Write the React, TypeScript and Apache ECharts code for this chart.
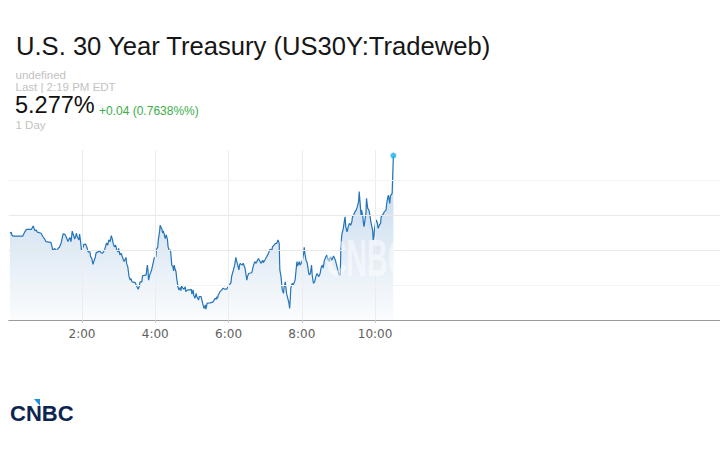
import React, { useEffect, useRef } from "react";
import * as echarts from "echarts";

// minutes after midnight
const TIMES: number[] = [
  2, 4, 5, 7, 23, 26, 29, 37, 40, 43, 45, 47, 53, 56, 59, 61, 69, 71, 72, 75,
  78, 81, 83, 86, 89, 92, 94, 97, 99, 100, 102, 104, 106, 108, 111, 112, 115, 116, 118, 119,
  122, 123, 126, 128, 130, 133, 134, 136, 138, 140, 142, 143, 149, 152, 154, 157, 160, 162, 164, 166,
  168, 170, 171, 173, 175, 177, 179, 180, 182, 184, 186, 188, 189, 192, 193, 195, 196, 197, 199, 200,
  202, 207, 210, 212, 214, 215, 218, 219, 225, 227, 228, 229, 231, 234, 237, 238, 241, 242, 244, 245,
  247, 248, 251, 252, 253, 255, 256, 258, 260, 261, 263, 265, 267, 269, 270, 271, 272, 274, 275, 276,
  277, 279, 281, 282, 283, 285, 287, 289, 290, 293, 297, 299, 300, 302, 303, 305, 307, 308, 311, 312,
  315, 317, 319, 320, 322, 323, 325, 330, 335, 338, 340, 341, 342, 343, 346, 349, 351, 354, 357, 360,
  364, 365, 368, 370, 372, 373, 375, 377, 378, 379, 382, 384, 387, 390, 391, 393, 398, 401, 403, 405,
  409, 413, 416, 417, 420, 425, 428, 431, 432, 437, 439, 441, 443, 444, 446, 448, 450, 451, 453, 455,
  457, 459, 460, 461, 462, 464, 466, 469, 472, 473, 476, 477, 479, 481, 483, 484, 485, 487, 489, 491,
  492, 494, 496, 497, 499, 501, 503, 505, 506, 508, 510, 512, 514, 515, 517, 519, 521, 523, 524, 525,
  527, 529, 532, 535, 537, 539, 541, 543, 544, 545, 546, 548, 550, 551, 552, 554, 555, 556, 558, 560,
  562, 563, 565, 567, 569, 571, 573, 574, 576, 577, 578, 580, 581, 582, 585, 586, 587, 588, 590, 592,
  593, 596, 597, 598, 599, 601, 602, 604, 605, 607, 609, 610, 612, 614, 615, 618, 619, 621, 622, 624,
  625, 626, 628, 630,
];

// yield (%)
const YIELDS: number[] = [
  5.2548, 5.2551, 5.2543, 5.254, 5.254, 5.2551, 5.2559, 5.2559, 5.2569, 5.2555,
  5.2557, 5.2551, 5.2548, 5.2538, 5.2531, 5.2524, 5.2522, 5.2509, 5.2498, 5.2505,
  5.2498, 5.2505, 5.2508, 5.2521, 5.2546, 5.2545, 5.2538, 5.2524, 5.2533, 5.2536,
  5.2524, 5.2554, 5.2543, 5.2531, 5.2548, 5.2538, 5.2529, 5.2546, 5.2519, 5.25,
  5.2509, 5.2516, 5.2517, 5.2508, 5.2495, 5.2495, 5.2481, 5.2476, 5.2459, 5.2471,
  5.2481, 5.2492, 5.2497, 5.2491, 5.2492, 5.25, 5.252, 5.2514, 5.2529, 5.2524,
  5.2541, 5.2529, 5.2519, 5.2509, 5.2514, 5.25, 5.2495, 5.2505, 5.2486, 5.2491,
  5.2481, 5.2471, 5.2467, 5.2479, 5.2462, 5.2452, 5.2438, 5.2424, 5.2414, 5.2419,
  5.2409, 5.2407, 5.2395, 5.2388, 5.2397, 5.2409, 5.2409, 5.2426, 5.2429, 5.2457,
  5.2443, 5.2414, 5.2429, 5.2443, 5.2467, 5.2476, 5.2481, 5.2502, 5.2509, 5.2529,
  5.2552, 5.2571, 5.2559, 5.2549, 5.2555, 5.2543, 5.2533, 5.2543, 5.2529, 5.2509,
  5.2498, 5.25, 5.2457, 5.2452, 5.244, 5.2457, 5.2448, 5.2438, 5.2419, 5.2409,
  5.2395, 5.2386, 5.2393, 5.2384, 5.2397, 5.2391, 5.2388, 5.2395, 5.2381, 5.2386,
  5.2386, 5.2388, 5.2374, 5.2386, 5.2371, 5.2362, 5.2376, 5.2367, 5.2357, 5.2367,
  5.2367, 5.2352, 5.2338, 5.2333, 5.2343, 5.2331, 5.2348, 5.2349, 5.2352, 5.2362,
  5.2359, 5.2367, 5.2362, 5.2371, 5.2381, 5.2386, 5.2391, 5.2388, 5.2388, 5.2397,
  5.2407, 5.2424, 5.2443, 5.2457, 5.2479, 5.2471, 5.2457, 5.2443, 5.2457, 5.2462,
  5.2457, 5.2462, 5.2448, 5.2414, 5.2424, 5.2433, 5.2435, 5.2457, 5.2467, 5.2462,
  5.2476, 5.2462, 5.2471, 5.2464, 5.2473, 5.2489, 5.2502, 5.25, 5.2509, 5.2519,
  5.2519, 5.2529, 5.2519, 5.2443, 5.2424, 5.2386, 5.2376, 5.2393, 5.2409, 5.2376,
  5.2362, 5.2348, 5.2333, 5.2357, 5.2391, 5.2405, 5.24, 5.2414, 5.2467, 5.2454,
  5.2467, 5.2457, 5.2462, 5.2471, 5.2491, 5.2508, 5.2491, 5.2471, 5.2462, 5.2438,
  5.2429, 5.2433, 5.2457, 5.2429, 5.2405, 5.2409, 5.2424, 5.2433, 5.2429, 5.2424,
  5.2433, 5.2452, 5.2457, 5.2448, 5.2471, 5.2479, 5.2486, 5.2471, 5.2476, 5.2467,
  5.2481, 5.2471, 5.2483, 5.2471, 5.2457, 5.2443, 5.2429, 5.2429, 5.2509, 5.2533,
  5.2548, 5.2562, 5.2586, 5.2595, 5.2567, 5.2552, 5.2557, 5.2567, 5.2576, 5.2571,
  5.2581, 5.2595, 5.26, 5.2609, 5.2614, 5.2624, 5.2638, 5.2667, 5.2624, 5.26,
  5.2614, 5.2595, 5.2576, 5.2567, 5.2605, 5.2648, 5.2633, 5.2619, 5.2614, 5.2595,
  5.2581, 5.2557, 5.2529, 5.2538, 5.2557, 5.2581, 5.2586, 5.2576, 5.2562, 5.2571,
  5.2576, 5.2595, 5.26, 5.2605, 5.2609, 5.2614, 5.2633, 5.2652, 5.2657, 5.2633,
  5.2652, 5.2657, 5.2662, 5.277,
];

const HOUR_TICKS: number[] = [120, 240, 360, 480, 600];
const GRID_LEVELS: number[] = [5.24, 5.25, 5.26, 5.27];
const GRID_LEVEL_COLORS: string[] = ["#f3f3f3", "#e9e9e9", "#e9e9e9", "#f3f3f3"];
const Y_MIN = 5.23;
const Y_MAX = 5.2786;
const X_MAX = 1165;

const TITLE = "U.S. 30 Year Treasury (US30Y:Tradeweb)";
const SUB1 = "undefined";
const SUB2 = "Last | 2:19 PM EDT";
const LAST_PRICE = "5.277%";
const CHANGE = "+0.04 (0.7638%%)";
const RANGE = "1 Day";

const FONT = "'Liberation Sans', Arial, Helvetica, sans-serif";

export default function App() {
  const ref = useRef<HTMLDivElement>(null);

  useEffect(() => {
    if (!ref.current) return;
    const chart = echarts.init(ref.current, undefined, { renderer: "svg" });
    const n = Math.min(TIMES.length, YIELDS.length);
    const data: number[][] = [];
    for (let i = 0; i < n; i++) data.push([TIMES[i], YIELDS[i]]);
    const last = data[data.length - 1];

    const fmt = (v: number) => {
      if (v < 120 || v > 600) return "";
      return `${Math.floor(v / 60)}:${String(v % 60).padStart(2, "0")}`;
    };

    chart.setOption({
      animation: false,
      backgroundColor: "#ffffff",
      grid: { left: 8.75, right: 0, top: 150, bottom: 130, containLabel: false },
      xAxis: {
        type: "value",
        min: 0,
        max: X_MAX,
        interval: 120,
        axisLine: { show: true, lineStyle: { color: "#9a9a9a", width: 1 } },
        axisTick: {
          show: true,
          length: 3,
          customValues: HOUR_TICKS,
          lineStyle: { color: "#c8c8c8" },
        },
        axisLabel: {
          show: true,
          customValues: HOUR_TICKS,
          formatter: fmt,
          color: "#5e5e5e",
          fontFamily: "'DejaVu Sans', Verdana, sans-serif",
          fontSize: 12,
          margin: 8,
        },
        splitLine: { show: false },
      },
      yAxis: {
        type: "value",
        min: Y_MIN,
        max: Y_MAX,
        scale: true,
        axisLine: { show: false },
        axisTick: { show: false },
        axisLabel: { show: false },
        splitLine: { show: false },
      },
      graphic: [
        {
          type: "text",
          x: 16,
          y: 46,
          style: { text: TITLE, fill: "#161616", font: `25.6px ${FONT}`, verticalAlign: "middle" },
        },
        {
          type: "text",
          x: 15.5,
          y: 75,
          style: { text: SUB1, fill: "#c2c2c2", font: `11.5px ${FONT}`, verticalAlign: "middle" },
        },
        {
          type: "text",
          x: 15.5,
          y: 86.8,
          style: { text: SUB2, fill: "#c2c2c2", font: `11.5px ${FONT}`, verticalAlign: "middle" },
        },
        {
          type: "text",
          x: 15,
          y: 105.2,
          style: { text: LAST_PRICE, fill: "#111111", font: `23.5px ${FONT}`, verticalAlign: "middle" },
        },
        {
          type: "text",
          x: 99,
          y: 110.8,
          style: { text: CHANGE, fill: "#3aae4a", font: `12px ${FONT}`, verticalAlign: "middle" },
        },
        {
          type: "text",
          x: 15.5,
          y: 124.8,
          style: { text: RANGE, fill: "#c2c2c2", font: `11.5px ${FONT}`, verticalAlign: "middle" },
        },
        {
          type: "text",
          x: 367,
          y: 258,
          scaleX: 0.55,
          z: 100,
          silent: true,
          style: {
            text: "CNBC",
            fill: "rgba(255,255,255,0.5)",
            font: `bold 52px ${FONT}`,
            align: "center",
            verticalAlign: "middle",
          },
        },
        {
          type: "text",
          x: 10,
          y: 413,
          style: {
            text: "CNBC",
            fill: "#0c2451",
            font: `bold 22px ${FONT}`,
            verticalAlign: "middle",
          },
        },
        {
          type: "polygon",
          shape: { points: [[34, 399], [40, 399], [40, 406]] },
          style: { fill: "#1b8fe6" },
        },
      ],
      series: [
        {
          type: "line",
          data,
          showSymbol: false,
          symbol: "none",
          lineStyle: { color: "#2474b9", width: 1.2 },
          areaStyle: {
            color: new echarts.graphic.LinearGradient(0, 0, 0, 1, [
              { offset: 0, color: "rgba(36,110,185,0.42)" },
              { offset: 1, color: "rgba(36,110,185,0.03)" },
            ]),
          },
          markLine: {
            silent: true,
            symbol: "none",
            label: { show: false },
            animation: false,
            data: [
              ...HOUR_TICKS.map((t) => ({
                xAxis: t,
                lineStyle: { color: "#ececec", width: 1, type: "solid" },
              })),
              ...GRID_LEVELS.map((lv, i) => ({
                yAxis: lv,
                lineStyle: { color: GRID_LEVEL_COLORS[i], width: 1, type: "solid" },
              })),
              {
                yAxis: last[1],
                lineStyle: { color: "#8fd18a", width: 1, type: [5, 5] },
              },
            ],
          },
          z: 2,
        },
        {
          type: "scatter",
          data: [last],
          symbol: "circle",
          symbolSize: 6,
          itemStyle: { color: "#1fb3f0" },
          z: 5,
        },
      ],
    });
    return () => chart.dispose();
  }, []);

  return (
    <div
      ref={ref}
      style={{ position: "fixed", left: 0, top: 0, width: 720, height: 450 }}
    />
  );
}
